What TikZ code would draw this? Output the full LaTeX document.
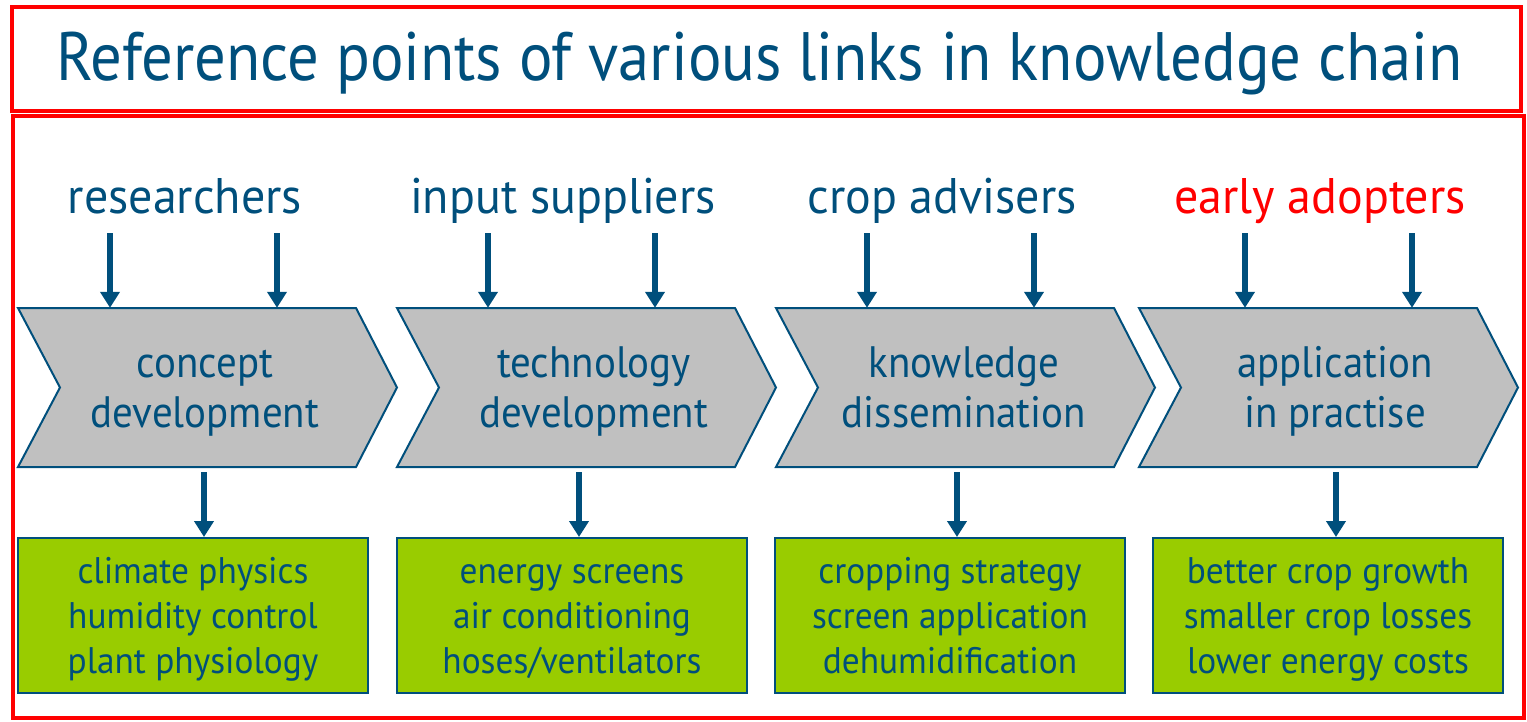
\documentclass[tikz,border=0pt]{standalone}
\usepackage{fontspec}
\setmainfont{PT Sans}
\newfontfamily\titlefont[FakeStretch=0.915]{PT Sans}
\newfontfamily\actorfont[FakeStretch=0.96]{PT Sans}
\newfontfamily\chevfont[FakeStretch=0.93]{PT Sans}
\newfontfamily\boxfont[FakeStretch=0.955]{PT Sans}
\usetikzlibrary{arrows.meta}

\definecolor{kblue}{HTML}{004F7C}
\definecolor{kgray}{HTML}{C0C0C0}
\definecolor{kgreen}{HTML}{99CC00}
\definecolor{kred}{HTML}{FF0000}

% struts that fix the first baseline of the chevron and box texts
\newcommand\chevtop{\rule{0pt}{40pt}}
\newcommand\chevbot{\rule[-11pt]{0pt}{11pt}}
\newcommand\boxtop{\rule{0pt}{38pt}}
\newcommand\boxbot{\rule[-13pt]{0pt}{13pt}}

\tikzset{
  frame/.style={draw=kred, line width=4pt},
  titletext/.style={text=kblue, inner sep=0pt, anchor=base, font=\titlefont\fontsize{68.5}{80}\selectfont},
  actor/.style={text=kblue, inner sep=0pt, anchor=base, font=\actorfont\fontsize{50}{60}\selectfont},
  chev/.style={draw=kblue, fill=kgray, line width=2pt, line join=miter},
  chevframe/.style={draw=none, inner sep=0pt, minimum width=379pt, minimum height=159pt},
  chevtext/.style={text=kblue, inner sep=0pt, align=center, font=\chevfont\fontsize{44}{50}\selectfont},
  resultbox/.style={draw=kblue, fill=kgreen, line width=2pt, inner sep=0pt,
    minimum width=350pt, minimum height=155pt, align=center, text=kblue,
    font=\boxfont\fontsize{37}{45}\selectfont},
  link/.style={draw=kblue, line width=6.5pt, -{Triangle[width=19pt,length=16pt]}}
}

\begin{document}
\begin{tikzpicture}[x=1pt,y=-1pt]
\useasboundingbox (0,0) rectangle (1527,721);

% frames around the heading and the body
\draw[frame] (12,7) rectangle (1521,111);
\draw[frame] (13,116) rectangle (1524,718);

\node[titletext] (title) at (759.5,80) {Reference points of various links in knowledge chain};

% actors above the chain
\node[actor] (act1) at (185,213) {researchers};
\node[actor] (act2) at (563,213) {input suppliers};
\node[actor] (act3) at (942,213) {crop advisers};
\node[actor, text=kred] (act4) at (1320,213) {early adopters};

% chevrons of the chain
\foreach \i/\l in {1/18, 2/397, 3/776, 4/1139}{
  \filldraw[chev] (\l,308) -- ++(338,0) -- ++(41,79.5) -- ++(-41,79.5)
     -- ++(-338,0) -- ++(42,-79.5) -- cycle;
  \node[chevframe] (chev\i) at (\l+189.5,387.5) {};
}
\node[chevtext] (lab1) at (205,387.5) {\chevtop concept\\development\chevbot};
\node[chevtext] (lab2) at (594,387.5) {\chevtop technology\\development\chevbot};
\node[chevtext] (lab3) at (964,387.5) {\chevtop knowledge\\dissemination\chevbot};
\node[chevtext] (lab4) at (1335,387.5) {\chevtop application\\in practise\chevbot};

% result boxes
\node[resultbox] (box1) at (193,615.5) {\boxtop climate physics\\humidity control\\plant physiology\boxbot};
\node[resultbox] (box2) at (572,615.5) {\boxtop energy screens\\air conditioning\\hoses/ventilators\boxbot};
\node[resultbox] (box3) at (950,615.5) {\boxtop cropping strategy\\screen application\\dehumidification\boxbot};
\node[resultbox] (box4) at (1328,615.5) {\boxtop better crop growth\\smaller crop losses\\lower energy costs\boxbot};

% arrows into the chevrons
\foreach \i/\a/\b in {1/110/277, 2/488/655, 3/867/1034, 4/1245/1412}{
  \coordinate (ta\i) at (\a,233);
  \coordinate (tb\i) at (\b,233);
  \draw[link] (ta\i) -- (ta\i |- chev\i.north);
  \draw[link] (tb\i) -- (tb\i |- chev\i.north);
}
% arrows from the chevrons to the result boxes
\foreach \i/\x in {1/204, 2/579, 3/957, 4/1336}{
  \coordinate (d\i) at (\x,472);
  \draw[link] (d\i) -- (d\i |- box\i.north);
}
\end{tikzpicture}
\end{document}
